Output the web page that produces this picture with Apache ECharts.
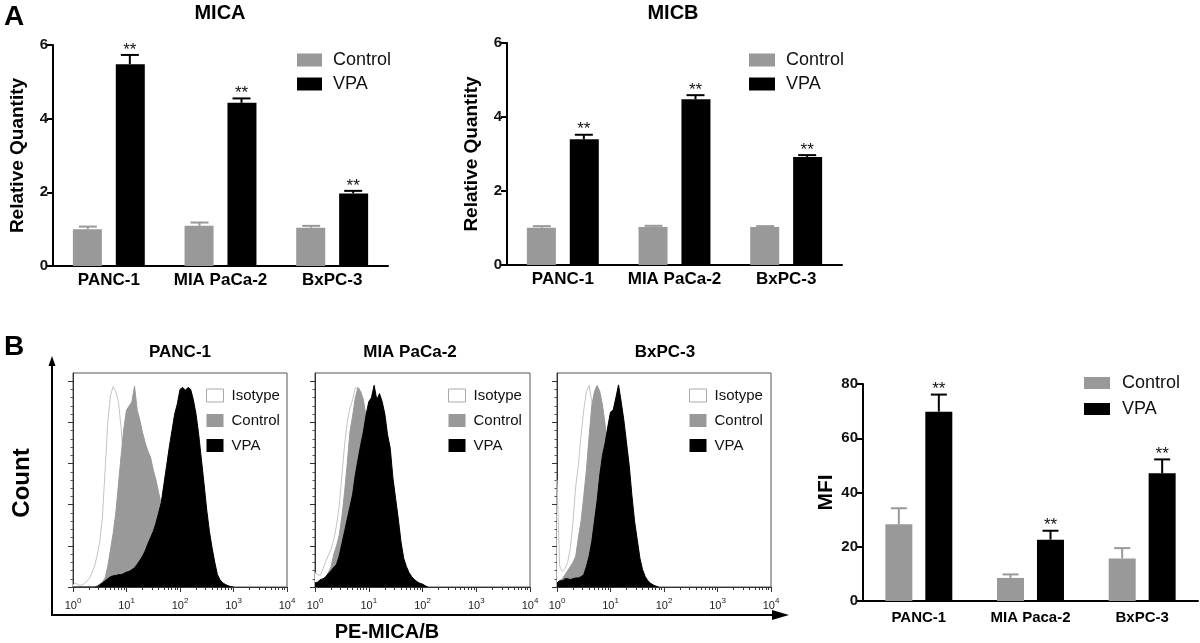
<!DOCTYPE html>
<html>
<head>
<meta charset="utf-8">
<script src="https://cdn.jsdelivr.net/npm/echarts@6/dist/echarts.min.js"></script>
<style>
  html, body { margin: 0; padding: 0; background: #fff; }
  #chart { width: 1200px; height: 643px; }
</style>
</head>
<body>
<div id="chart"></div>
<script>
// ---------- data ----------
const cellLines = ["PANC-1", "MIA PaCa-2", "BxPC-3"];
const cellLinesMfi = ["PANC-1", "MIA Paca-2", "BxPC-3"];
const stars = ["**", "**", "**"];

// qPCR relative quantity (mean, upper error)
const micaControl = [1.0, 1.09, 1.04];
const micaControlErr = [0.07, 0.09, 0.05];
const micaVpa = [5.48, 4.43, 1.97];
const micaVpaErr = [0.25, 0.12, 0.07];

const micbControl = [1.01, 1.03, 1.03];
const micbControlErr = [0.04, 0.03, 0.02];
const micbVpa = [3.40, 4.48, 2.92];
const micbVpaErr = [0.12, 0.11, 0.05];

// flow cytometry MFI
const mfiControl = [28.3, 8.5, 15.7];
const mfiControlErr = [5.9, 1.3, 3.8];
const mfiVpa = [69.8, 22.6, 47.1];
const mfiVpaErr = [6.3, 3.3, 5.1];

// histogram bins (PE fluorescence, log spaced) and counts
const bins = [1, 1.122, 1.259, 1.413, 1.585, 1.778, 1.995, 2.239, 2.512, 2.818,
  3.162, 3.548, 3.981, 4.467, 5.012, 5.623, 6.31, 7.079, 7.943, 8.913,
  10, 11.22, 12.59, 14.13, 15.85, 17.78, 19.95, 22.39, 25.12, 28.18,
  31.62, 35.48, 39.81, 44.67, 50.12, 56.23, 63.1, 70.79, 79.43, 89.13,
  100, 112.2, 125.9, 141.3, 158.5, 177.8, 199.5, 223.9, 251.2, 281.8,
  316.2, 354.8, 398.1, 446.7, 501.2, 562.3, 631, 707.9, 794.3, 891.3, 1000];

const panc1Isotype = [0.05, 0.1, 0.05, 0.04, 0.07, 0.13, 0.2, 0.33, 0.5, 0.75,
  1.1, 1.7, 2.84, 4.0, 4.65, 4.87, 4.75, 4.5, 3.85, 3.0,
  2.2, 1.5, 1.0, 0.6, 0.35, 0.2, 0.1, 0.05, 0];
const panc1Control = [0, 0, 0, 0, 0, 0, 0, 0, 0, 0.03,
  0.07, 0.12, 0.22, 0.5, 0.9, 1.3, 1.8, 2.5, 3.2, 3.85,
  4.3, 4.4, 4.5, 4.88, 4.3, 4.05, 3.75, 3.5, 3.3, 3.15,
  2.85, 2.6, 2.3, 2.0, 1.6, 1.2, 0.9, 0.6, 0.4, 0.25,
  0.15, 0.08, 0.04, 0];
const panc1Vpa = [0, 0, 0, 0, 0, 0, 0, 0, 0, 0,
  0.05, 0.1, 0.15, 0.2, 0.25, 0.27, 0.28, 0.3, 0.3, 0.33,
  0.36, 0.38, 0.42, 0.47, 0.55, 0.65, 0.75, 0.88, 1.05, 1.2,
  1.35, 1.55, 1.8, 2.05, 2.5, 2.95, 3.4, 3.8, 4.2, 4.45,
  4.8, 4.85, 4.78, 4.85, 4.8, 4.55, 4.2, 3.7, 3.1, 2.5,
  1.87, 1.35, 0.95, 0.6, 0.3, 0.17, 0.1, 0.06, 0.03, 0.01, 0];

const miaIsotype = [0.35, 0.3, 0.28, 0.45, 0.62, 0.78, 0.92, 1.15, 1.5, 1.95,
  2.7, 3.45, 4.0, 4.35, 4.55, 4.85, 4.8, 4.5, 3.9, 3.2,
  2.5, 1.8, 1.2, 0.8, 0.5, 0.3, 0.15, 0.07, 0];
const miaControl = [0, 0, 0.1, 0.15, 0.22, 0.35, 0.5, 0.8, 1.0, 1.25,
  1.7, 2.3, 3.0, 3.77, 4.15, 4.6, 4.85, 4.75, 4.55, 4.15,
  3.6, 2.9, 2.2, 1.5, 1.0, 0.6, 0.35, 0.2, 0.1, 0.05, 0];
const miaVpa = [0.1, 0.12, 0.18, 0.2, 0.25, 0.33, 0.4, 0.48, 0.55, 0.75,
  1.05, 1.35, 1.65, 1.95, 2.25, 2.72, 3.1, 3.45, 3.77, 4.18,
  4.5, 4.6, 4.9, 4.55, 4.7, 4.5, 4.2, 3.7, 3.37, 2.65,
  2.15, 1.65, 1.1, 0.7, 0.5, 0.35, 0.25, 0.18, 0.13, 0.09,
  0.07, 0.03, 0];

const bxpcIsotype = [2.6, 0.5, 0.38, 0.45, 0.6, 0.95, 1.6, 2.45, 2.96, 3.7,
  4.3, 4.75, 4.9, 4.5, 3.8, 3.0, 2.2, 1.5, 1.0, 0.6,
  0.35, 0.2, 0.1, 0.05, 0];
const bxpcControl = [0.1, 0.15, 0.2, 0.3, 0.4, 0.5, 0.6, 0.75, 1.2, 1.6,
  2.2, 2.85, 3.65, 4.4, 4.75, 4.9, 4.75, 4.42, 3.94, 3.3,
  2.6, 1.9, 1.3, 0.8, 0.45, 0.25, 0.1, 0.05, 0];
const bxpcVpa = [0.1, 0.15, 0.15, 0.2, 0.2, 0.18, 0.2, 0.22, 0.22, 0.25,
  0.3, 0.5, 0.75, 1.1, 1.6, 2.1, 2.72, 3.2, 3.5, 3.9,
  4.25, 4.3, 4.6, 4.91, 4.5, 4.05, 3.5, 2.95, 2.23, 1.6,
  1.15, 0.7, 0.42, 0.25, 0.15, 0.09, 0.05, 0.02, 0];

const decadeTicks = [1, 10, 100, 1000, 10000];
const minorLogTicks = [2, 3, 4, 5, 6, 7, 8, 9, 20, 30, 40, 50, 60, 70, 80, 90,
  200, 300, 400, 500, 600, 700, 800, 900, 2000, 3000, 4000, 5000, 6000, 7000, 8000, 9000];
const countTicks = [0, 1, 2, 3, 4, 5];

// ---------- styling ----------
const FONT = "Liberation Sans, Arial, sans-serif";
const GRAY = "#999999";
const BLACK = "#000000";

const chart = echarts.init(document.getElementById("chart"));

function barXAxis(grid, cats, fontSize, margin) {
  return {
    type: "category", gridIndex: grid, data: cats,
    axisLine: { lineStyle: { color: "#000", width: 2 } },
    axisTick: { alignWithLabel: true, length: 6, lineStyle: { width: 2, color: "#000" } },
    axisLabel: { interval: 0, fontFamily: FONT, fontWeight: "bold", fontSize: fontSize, color: "#000", margin: margin }
  };
}

function barYAxis(grid, max, interval, name) {
  return {
    type: "value", gridIndex: grid, min: 0, max: max, interval: interval,
    name: name, nameLocation: "middle", nameGap: 26,
    nameTextStyle: { fontFamily: FONT, fontWeight: "bold", fontSize: name === "MFI" ? 21 : 19, color: "#000" },
    axisLine: { show: true, lineStyle: { color: "#000", width: 2 } },
    axisTick: { show: true, length: 6, lineStyle: { width: 2, color: "#000" } },
    axisLabel: { fontFamily: FONT, fontWeight: "bold", fontSize: 15, color: "#111", margin: 5 },
    splitLine: { show: false }
  };
}

function barSeries(name, values, idx, color, width) {
  return {
    type: "bar", name: name, xAxisIndex: idx, yAxisIndex: idx,
    data: values, barWidth: width, barGap: "48%",
    itemStyle: { color: color }
  };
}

// upward error bar with cap, optional significance stars
function errSeries(means, errs, marks, idx, side, color, offset, cap) {
  return {
    type: "custom", name: "err", xAxisIndex: idx, yAxisIndex: idx, z: 5,
    data: means.map((m, i) => [i, m, m + errs[i]]),
    encode: { x: 0, y: [1, 2] },
    renderItem: (params, api) => {
      const base = api.coord([api.value(0), api.value(1)]);
      const top = api.coord([api.value(0), api.value(2)]);
      const x = base[0] + side * offset;
      const kids = [
        { type: "line", shape: { x1: x, y1: base[1], x2: x, y2: top[1] }, style: { stroke: color, lineWidth: 2 } },
        { type: "line", shape: { x1: x - cap / 2, y1: top[1], x2: x + cap / 2, y2: top[1] }, style: { stroke: color, lineWidth: 2 } }
      ];
      if (marks && marks[params.dataIndex]) {
        kids.push({ type: "text", style: { text: marks[params.dataIndex], x: x, y: top[1] - 5,
          align: "center", verticalAlign: "middle", fontFamily: FONT, fontSize: 17, fill: "#111" } });
      }
      return { type: "group", children: kids };
    }
  };
}

function histXAxis(grid) {
  return {
    type: "log", gridIndex: grid, min: 1, max: 10000, logBase: 10, position: "bottom",
    axisLine: { lineStyle: { color: "#333", width: 1 } },
    axisTick: { length: 5, customValues: decadeTicks, lineStyle: { color: "#333" } },
    axisLabel: {
      customValues: decadeTicks, margin: 10,
      formatter: (v) => "{b|10}{s|" + Math.round(Math.log10(v)) + "}",
      rich: {
        b: { fontFamily: FONT, fontSize: 11, color: "#222", lineHeight: 14, verticalAlign: "bottom" },
        s: { fontFamily: FONT, fontSize: 8, color: "#222", lineHeight: 8, verticalAlign: "top" }
      }
    },
    splitLine: { show: false }
  };
}

function histMinorAxis(grid) {
  return {
    type: "log", gridIndex: grid, min: 1, max: 10000, logBase: 10, position: "bottom",
    axisLine: { show: false },
    axisTick: { length: 3, customValues: minorLogTicks, lineStyle: { color: "#333" } },
    axisLabel: { show: false },
    splitLine: { show: false }
  };
}

function histYAxis(grid) {
  return {
    type: "value", gridIndex: grid, min: 0, max: 5.2, interval: 1,
    axisLine: { show: true, lineStyle: { color: "#333", width: 1 } },
    axisTick: { show: true, length: 5, customValues: countTicks, lineStyle: { color: "#333" } },
    minorTick: { show: true, splitNumber: 5, length: 2.5, lineStyle: { color: "#555" } },
    axisLabel: { show: false },
    splitLine: { show: false }
  };
}

function histSeries(name, counts, idx, fill, line, z) {
  return {
    type: "line", name: name, xAxisIndex: idx, yAxisIndex: idx, z: z,
    data: counts.map((c, i) => [bins[i], c]),
    symbol: "none", smooth: false, silent: true,
    lineStyle: { color: line, width: 1 },
    areaStyle: { color: fill, opacity: 1 },
    itemStyle: { color: fill }
  };
}

function legendAt(left, top, names, iw, ih, fontSize, gap, pad) {
  const styles = {
    Isotype: { color: "#fff", borderColor: "#aaa", borderWidth: 1 },
    Control: { color: GRAY },
    VPA: { color: BLACK }
  };
  return {
    left: left, top: top, orient: "vertical", icon: "rect", selectedMode: false, padding: 0,
    itemWidth: iw, itemHeight: ih, itemGap: gap,
    data: names.map((n) => ({ name: n, itemStyle: styles[n] })),
    textStyle: { fontFamily: FONT, fontSize: fontSize, lineHeight: fontSize + 2, color: "#111", padding: [0, 0, 0, pad] }
  };
}

function label(text, x, y, size, bold, rotation) {
  return {
    type: "text", x: x, y: y, rotation: rotation || 0,
    style: { text: text, align: "center", verticalAlign: "middle", fontFamily: FONT,
      fontSize: size, fontWeight: bold ? "bold" : "normal", fill: "#000" }
  };
}

const option = {
  backgroundColor: "#fff",
  animation: false,
  grid: [
    { left: 53, top: 45, width: 335, height: 221 },   // MICA
    { left: 507, top: 43, width: 335, height: 222 },  // MICB
    { left: 73, top: 373, width: 214, height: 214, show: true, borderColor: "#555", borderWidth: 1 },  // PANC-1 hist
    { left: 315, top: 373, width: 215, height: 214, show: true, borderColor: "#555", borderWidth: 1 }, // MIA hist
    { left: 557, top: 373, width: 214, height: 214, show: true, borderColor: "#555", borderWidth: 1 }, // BxPC hist
    { left: 863, top: 384, width: 335, height: 217 }  // MFI
  ],
  xAxis: [
    barXAxis(0, cellLines, 17, 6),
    barXAxis(1, cellLines, 17, 6),
    histXAxis(2), histXAxis(3), histXAxis(4),
    barXAxis(5, cellLinesMfi, 15, 9),
    histMinorAxis(2), histMinorAxis(3), histMinorAxis(4)
  ],
  yAxis: [
    barYAxis(0, 6, 2, "Relative Quantity"),
    barYAxis(1, 6, 2, "Relative Quantity"),
    histYAxis(2), histYAxis(3), histYAxis(4),
    barYAxis(5, 80, 20, "MFI")
  ],
  legend: [
    legendAt(297, 50, ["Control", "VPA"], 25, 13, 18, 4, 6),
    legendAt(749, 50, ["Control", "VPA"], 26, 13, 18, 4, 6),
    legendAt(206, 387, ["Isotype", "Control", "VPA"], 17, 13, 15, 8, 3),
    legendAt(448, 387, ["Isotype", "Control", "VPA"], 17, 13, 15, 8, 3),
    legendAt(689, 387, ["Isotype", "Control", "VPA"], 17, 13, 15, 8, 3),
    legendAt(1084, 373, ["Control", "VPA"], 26, 12, 18, 6, 7)
  ],
  series: [
    barSeries("Control", micaControl, 0, GRAY, 29),
    barSeries("VPA", micaVpa, 0, BLACK, 29),
    errSeries(micaControl, micaControlErr, null, 0, -1, GRAY, 21, 18),
    errSeries(micaVpa, micaVpaErr, stars, 0, 1, BLACK, 21, 18),

    barSeries("Control", micbControl, 1, GRAY, 29),
    barSeries("VPA", micbVpa, 1, BLACK, 29),
    errSeries(micbControl, micbControlErr, null, 1, -1, GRAY, 21, 18),
    errSeries(micbVpa, micbVpaErr, stars, 1, 1, BLACK, 21, 18),

    histSeries("Isotype", panc1Isotype, 2, "#fff", "#c4c4c4", 1),
    histSeries("Control", panc1Control, 2, GRAY, GRAY, 2),
    histSeries("VPA", panc1Vpa, 2, BLACK, BLACK, 3),
    histSeries("Isotype", miaIsotype, 3, "#fff", "#c4c4c4", 1),
    histSeries("Control", miaControl, 3, GRAY, GRAY, 2),
    histSeries("VPA", miaVpa, 3, BLACK, BLACK, 3),
    histSeries("Isotype", bxpcIsotype, 4, "#fff", "#c4c4c4", 1),
    histSeries("Control", bxpcControl, 4, GRAY, GRAY, 2),
    histSeries("VPA", bxpcVpa, 4, BLACK, BLACK, 3),

    barSeries("Control", mfiControl, 5, GRAY, 27),
    barSeries("VPA", mfiVpa, 5, BLACK, 27),
    errSeries(mfiControl, mfiControlErr, null, 5, -1, GRAY, 20, 16),
    errSeries(mfiVpa, mfiVpaErr, stars, 5, 1, BLACK, 20, 16)
  ],
  graphic: [
    label("A", 14, 17, 28, true),
    label("B", 14, 347, 28, true),
    label("MICA", 220, 13, 20, true),
    label("MICB", 673, 13, 20, true),
    label("PANC-1", 180, 352, 17, true),
    label("MIA PaCa-2", 410, 352, 17, true),
    label("BxPC-3", 665, 352, 17, true),
    label("Count", 22, 483, 24, true, Math.PI / 2),
    label("PE-MICA/B", 387, 632, 20, true),
    { type: "line", shape: { x1: 52, y1: 615, x2: 52, y2: 364 }, style: { stroke: "#000", lineWidth: 2 } },
    { type: "polygon", shape: { points: [[52, 356], [48.5, 366], [55.5, 366]] }, style: { fill: "#000" } },
    { type: "line", shape: { x1: 51, y1: 615, x2: 775, y2: 615 }, style: { stroke: "#000", lineWidth: 2 } },
    { type: "polygon", shape: { points: [[789, 615], [772, 610], [772, 620]] }, style: { fill: "#000" } }
  ]
};

chart.setOption(option);
</script>
</body>
</html>
